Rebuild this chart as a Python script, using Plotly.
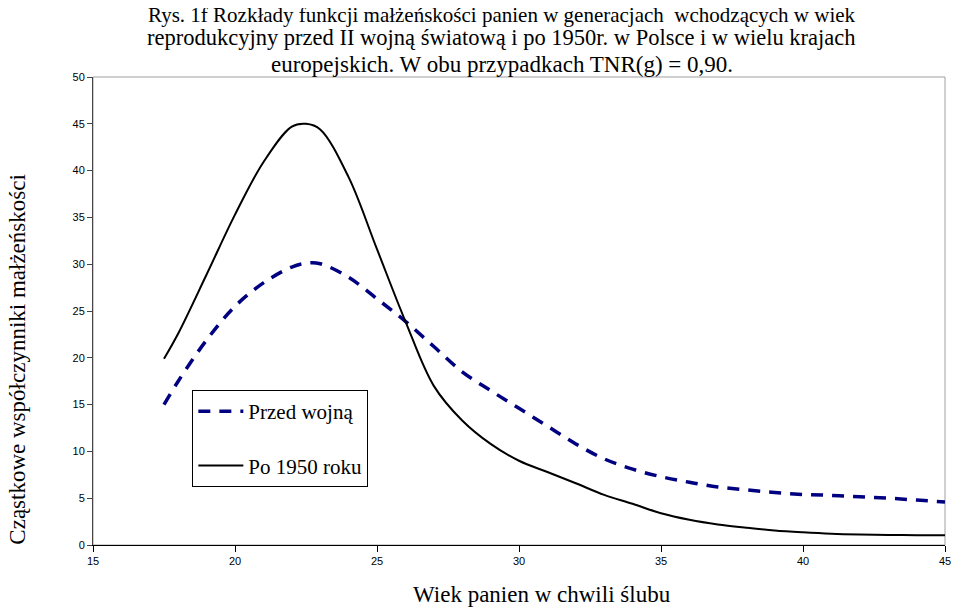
import plotly.graph_objects as go

# wiek panien (lata) i współczynniki małżeńskości
wiek = [17.5, 18, 19, 20, 21, 22, 22.5, 23, 24, 25, 26, 27, 28, 29, 30, 31, 32,
        33, 34, 35, 36, 37, 38, 39, 40, 41, 42, 43, 44, 45]

przed_wojna = [15.0, 17.5, 21.9, 25.5, 28.0, 29.7, 30.1, 30.05, 28.6, 26.3, 23.9,
               21.2, 18.5, 16.5, 14.6, 12.7, 10.8, 9.2, 8.1, 7.3, 6.7, 6.2, 5.9,
               5.6, 5.4, 5.3, 5.15, 5.0, 4.8, 4.6]

po_1950 = [19.9, 22.6, 28.9, 35.3, 40.9, 44.7, 45.0, 44.4, 39.3, 31.6, 23.9,
           17.0, 13.3, 10.8, 9.0, 7.8, 6.6, 5.35, 4.4, 3.4, 2.7, 2.2, 1.85, 1.55,
           1.35, 1.2, 1.12, 1.08, 1.05, 1.05]

x_ticks = [15, 20, 25, 30, 35, 40, 45]
y_ticks = [0, 5, 10, 15, 20, 25, 30, 35, 40, 45, 50]

tytul = [
    "Rys. 1f Rozkłady funkcji małżeńskości panien w generacjach  wchodzących w wiek",
    "reprodukcyjny przed II wojną światową i po 1950r. w Polsce i w wielu krajach",
    "europejskich. W obu przypadkach TNR(g) = 0,90.",
]
tytul_y = [1.1318, 1.0835, 1.026]
tytul_size = [21, 22.5, 23]

SERIF = "Liberation Serif, Times New Roman, serif"
SANS = "Liberation Sans, Arial, sans-serif"

fig = go.Figure()

fig.add_trace(go.Scatter(
    x=wiek, y=przed_wojna, mode="lines", name="Przed wojną",
    line=dict(color="#000080", width=3.5, dash="12px,9px", shape="spline", smoothing=1),
    legendgroup="a",
))
fig.add_trace(go.Scatter(
    x=wiek, y=po_1950, mode="lines", name="Po 1950 roku",
    line=dict(color="black", width=2, shape="spline", smoothing=1),
    legendgroup="b",
))

# szara ramka obszaru wykresu (góra i prawa strona)
fig.add_shape(type="rect", xref="paper", yref="paper", x0=0, y0=0, x1=1, y1=1,
              line=dict(color="#a0a0a0", width=1), layer="below")

fig.update_layout(
    width=951, height=602,
    margin=dict(l=85, r=8, t=69, b=65),
    paper_bgcolor="white", plot_bgcolor="white",
    xaxis=dict(
        range=[15, 45], tickvals=x_ticks, ticks="outside", ticklen=6,
        tickcolor="black", showline=True, linecolor="black", linewidth=1,
        showgrid=False, zeroline=False,
        tickfont=dict(family=SANS, size=11, color="black"),
    ),
    yaxis=dict(
        range=[0, 50], tickvals=y_ticks, ticks="outside", ticklen=5,
        tickcolor="#444444", showline=True, linecolor="#444444", linewidth=1,
        showgrid=False, zeroline=False,
        tickfont=dict(family=SANS, size=11, color="black"),
    ),
    legend=dict(
        x=0.1166, y=0.331, xanchor="left", yanchor="top",
        bordercolor="black", borderwidth=1, bgcolor="white",
        font=dict(family=SERIF, size=21, color="black"),
        tracegroupgap=24, itemwidth=45,
    ),
    showlegend=True,
)

for tekst, y, s in zip(tytul, tytul_y, tytul_size):
    fig.add_annotation(
        text=tekst, xref="paper", yref="paper", x=0.480, y=y,
        xanchor="center", yanchor="middle", showarrow=False,
        font=dict(family=SERIF, size=s, color="black"),
    )

fig.add_annotation(
    text="Cząstkowe współczynniki małżeńskości", textangle=-90,
    xref="paper", yref="paper", x=-0.0886, y=0.395, xanchor="center", yanchor="middle",
    showarrow=False, font=dict(family=SERIF, size=23, color="black"),
)
fig.add_annotation(
    text="Wiek panien w chwili ślubu",
    xref="paper", yref="paper", x=0.527, y=-0.1053, xanchor="center", yanchor="middle",
    showarrow=False, font=dict(family=SERIF, size=23, color="black"),
)

fig.write_html("out.html")
